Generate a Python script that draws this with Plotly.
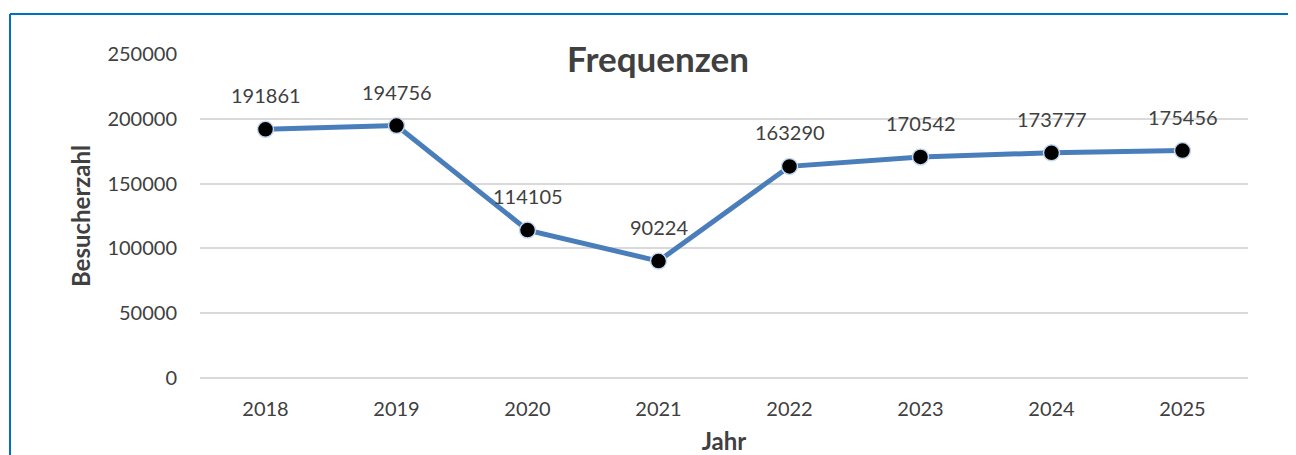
import plotly.graph_objects as go

years = ["2018", "2019", "2020", "2021", "2022", "2023", "2024", "2025"]
visitors = [191861, 194756, 114105, 90224, 163290, 170542, 173777, 175456]
y_ticks = [0, 50000, 100000, 150000, 200000, 250000]

FONT = "Lato"
TXT = "#404040"
OFF = 8  # page body margin

W, H = 1296 - OFF, 455 - OFF
L, T = 200 - OFF, 54 - OFF
R = W - (1248 - OFF)
B = H - (378 - OFF)

fig = go.Figure()
fig.add_trace(go.Scatter(
    x=years, y=visitors, mode="lines+markers",
    line=dict(color="#4A7EBB", width=5),
    marker=dict(color="black", size=16, line=dict(color="#C5D7EE", width=1.5)),
    showlegend=False,
))
for i, v in enumerate(visitors):
    fig.add_annotation(x=i, y=v, xref="x", yref="y", text=str(v), showarrow=False,
                       yshift=34, font=dict(family=FONT, size=20, color=TXT))

fig.update_layout(
    width=W, height=H,
    margin=dict(l=L, r=R, t=T, b=B),
    paper_bgcolor="white", plot_bgcolor="white",
    font=dict(family=FONT, size=20, color=TXT),
    title=dict(text="<b>Frequenzen</b>", x=(658 - OFF) / W, xanchor="center",
               y=1 - (60 - OFF) / H, yanchor="middle",
               font=dict(family=FONT, size=35, color=TXT)),
    xaxis=dict(type="category", range=[-0.5, 7.5], showgrid=False, showline=False,
               automargin=False,
               ticks="", tickfont=dict(size=20, color=TXT), ticklabelstandoff=17,
               title=dict(text="<b>Jahr</b>", font=dict(size=24, color=TXT), standoff=16)),
    yaxis=dict(range=[0, 250000], tickvals=y_ticks, ticktext=[str(t) for t in y_ticks],
               automargin=False,
               showgrid=True, gridcolor="#D9D9D9", gridwidth=1.5,
               zeroline=True, zerolinecolor="#D9D9D9", zerolinewidth=1.5,
               showline=False, ticks="", ticklabelstandoff=22,
               tickfont=dict(size=20, color=TXT),
               title=dict(text="<b>Besucherzahl</b>", font=dict(size=24, color=TXT), standoff=9)),
)

# chart-area border (top and left edges visible)
px = lambda p: (p - 200) / 1048
py = lambda p: (378 - p) / 324
fig.add_shape(type="line", xref="paper", yref="paper", x0=px(10), x1=px(1296),
              y0=py(14), y1=py(14), line=dict(color="#0070C0", width=2))
fig.add_shape(type="line", xref="paper", yref="paper", x0=px(10), x1=px(10),
              y0=py(14), y1=py(455), line=dict(color="#0070C0", width=2))

fig.write_html("out.html")
